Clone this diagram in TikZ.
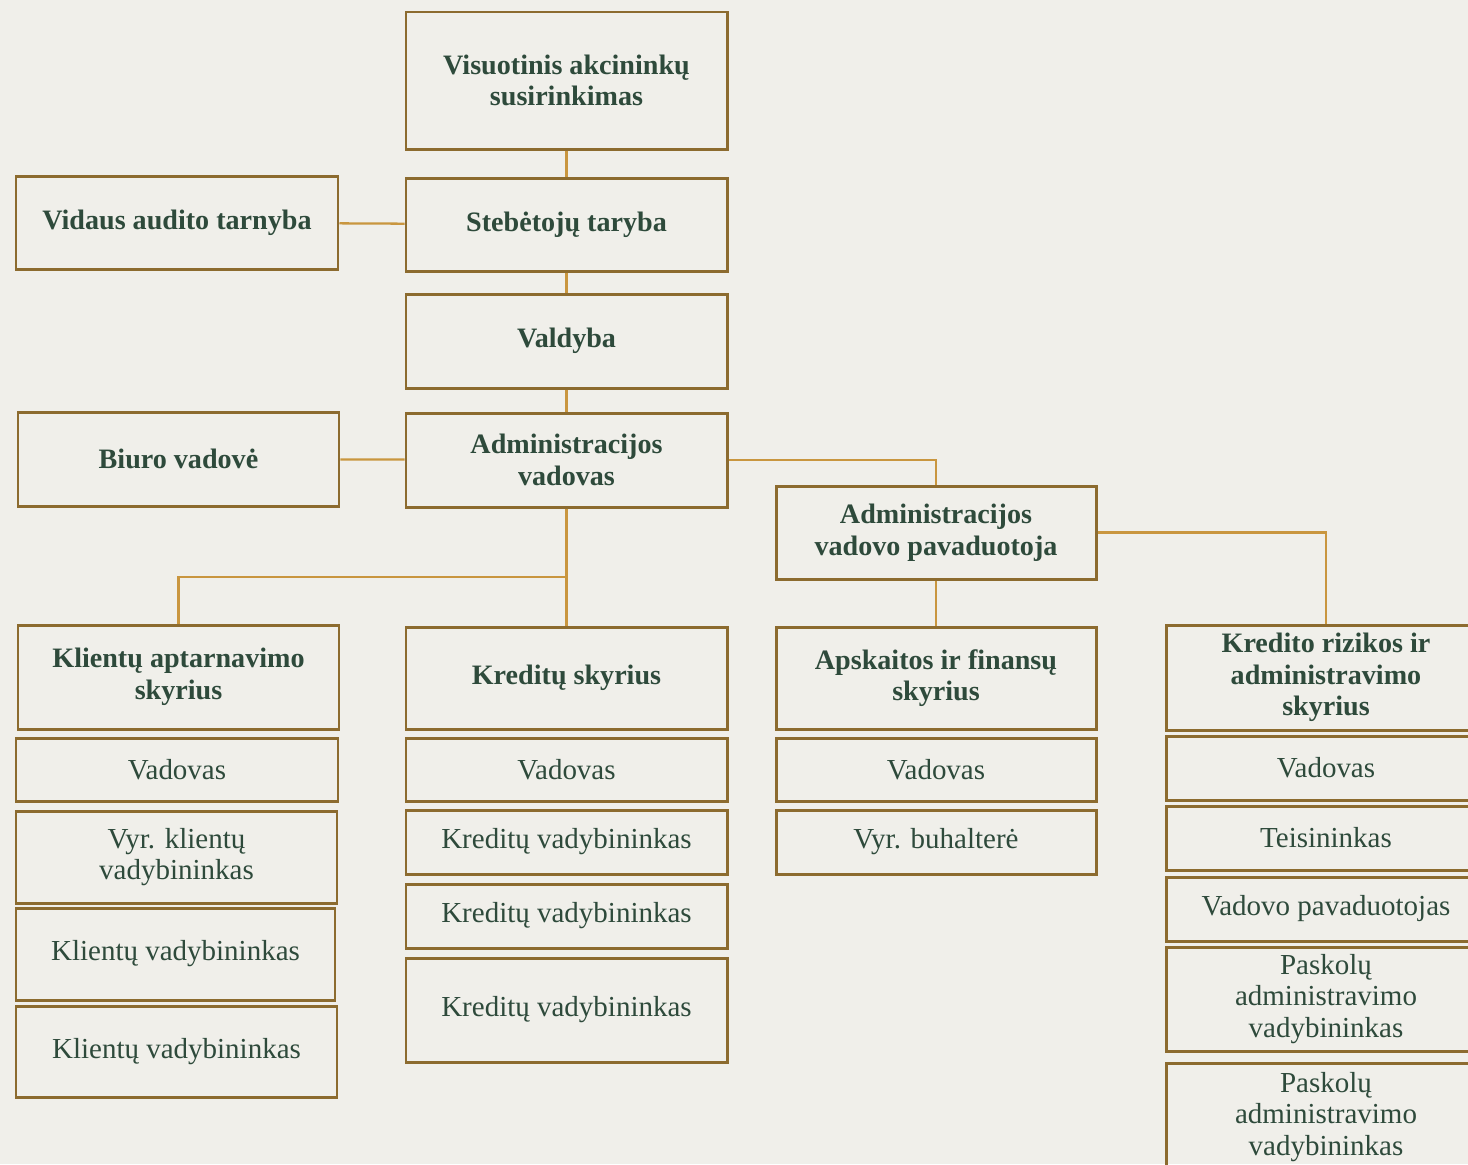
\documentclass[tikz,border=0pt]{standalone}
\usepackage{fontspec}
\setmainfont{Liberation Serif}
\definecolor{paper}{HTML}{F0EFEA}
\definecolor{frame}{HTML}{8C6B2F}
\definecolor{wire}{HTML}{C9963F}
\definecolor{ink}{HTML}{2E4A3B}
\begin{document}
\begin{tikzpicture}[x=0.02cm,y=-0.02cm,
		sz/.style 2 args={minimum width=#1*0.02cm,minimum height=#2*0.02cm},
		headbox/.style={draw=frame,line width=1.7pt,inner sep=0pt,align=center,text=ink,font=\fontsize{16}{18}\selectfont\bfseries},
		jobbox/.style={draw=frame,line width=1.7pt,inner sep=0pt,align=center,text=ink,font=\fontsize{16.5}{18}\selectfont},
		link/.style={draw=wire,line width=1.3pt}]
				\fill[paper] (0,0) rectangle (1468,1164);
				\useasboundingbox (0,0) rectangle (1468,1164);
				\clip (0,0) rectangle (1468,1164);
				% upper chain
				\node[headbox,sz={321}{137}] (visu) at (566.5,80.5) {Visuotinis akcininkų\\susirinkimas};
				\node[headbox,sz={321}{93}] (stebe) at (566.5,224.5) {Stebėtojų taryba};
				\node[headbox,sz={322}{93}] (audit) at (177,222.5) {Vidaus audito tarnyba};
				\node[headbox,sz={321}{94}] (valdy) at (566.5,341) {Valdyba};
				\node[headbox,sz={321}{94}] (admv) at (566.5,460) {Administracijos\\vadovas};
				\node[headbox,sz={321}{94}] (biuro) at (178.5,459) {Biuro vadovė};
				\node[headbox,sz={320}{93}] (pavad) at (936,532.5) {Administracijos\\vadovo pavaduotoja};
				% departments
				\node[headbox,sz={321}{104}] (klient) at (178.5,677) {Klientų aptarnavimo\\skyrius};
				\node[headbox,sz={321}{102}] (kredit) at (566.5,678) {Kreditų skyrius};
				\node[headbox,sz={320}{102}] (apsk) at (936,678) {Apskaitos ir finansų\\skyrius};
				\node[headbox,sz={320}{105}] (rizik) at (1326,677.5) {Kredito rizikos ir\\administravimo\\skyrius};
				% staff
				\node[jobbox,sz={322}{63}] (klient1) at (177,770) {Vadovas};
				\node[jobbox,sz={321}{92}] (klient2) at (176.5,857) {Vyr. klientų\\vadybininkas};
				\node[jobbox,sz={319}{92}] (klient3) at (175.5,954) {Klientų vadybininkas};
				\node[jobbox,sz={321}{91}] (klient4) at (176.5,1051.5) {Klientų vadybininkas};
				\node[jobbox,sz={321}{63}] (kredit1) at (566.5,770) {Vadovas};
				\node[jobbox,sz={321}{64}] (kredit2) at (566.5,842) {Kreditų vadybininkas};
				\node[jobbox,sz={321}{64}] (kredit3) at (566.5,916) {Kreditų vadybininkas};
				\node[jobbox,sz={321}{104}] (kredit4) at (566.5,1010) {Kreditų vadybininkas};
				\node[jobbox,sz={320}{63}] (apsk1) at (936,770) {Vadovas};
				\node[jobbox,sz={320}{64}] (apsk2) at (936,842) {Vyr. buhalterė};
				\node[jobbox,sz={320}{64}] (rizik1) at (1326,768) {Vadovas};
				\node[jobbox,sz={320}{64}] (rizik2) at (1326,838) {Teisininkas};
				\node[jobbox,sz={320}{64}] (rizik3) at (1326,909) {Vadovo pavaduotojas};
				\node[jobbox,sz={320}{104}] (rizik4) at (1326,999) {Paskolų\\administravimo\\vadybininkas};
				\node[jobbox,sz={320}{108}] (rizik5) at (1326,1117) {Paskolų\\administravimo\\vadybininkas};
				% connectors
				\coordinate (fork) at (566.5,577);
				\path[link] (visu) -- (stebe);
				\path[link] (audit) -- (stebe);
				\path[link] (stebe) -- (valdy);
				\path[link] (valdy) -- (admv);
				\path[link] (biuro) -- (admv);
				\path[link] (admv.east) -| (pavad.north);
				\path[link] (admv) -- (kredit);
				\path[link] (fork) -| (klient.north);
				\path[link] (pavad) -- (apsk);
				\path[link] (pavad.east) -| (rizik.north);
			\end{tikzpicture}
\end{document}
